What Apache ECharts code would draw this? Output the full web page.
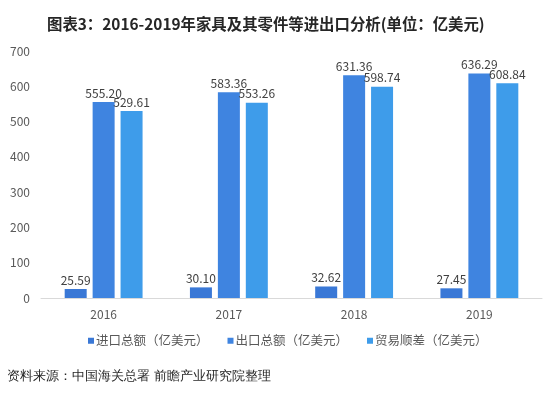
<!DOCTYPE html>
<html><head><meta charset="utf-8">
<script src="https://cdn.jsdelivr.net/npm/echarts@6/dist/echarts.min.js"></script>
<style>html,body{margin:0;padding:0;background:#fff}#c{width:555px;height:397px}</style>
</head><body><div id="c"></div>
<script>
const categories = ['2016', '2017', '2018', '2019'];
const importTotal = [25.59, 30.10, 32.62, 27.45];
const exportTotal = [555.20, 583.36, 631.36, 636.29];
const tradeSurplus = [529.61, 553.26, 598.74, 608.84];
const seriesNames = ['进口总额（亿美元）', '出口总额（亿美元）', '贸易顺差（亿美元）'];
const yTicks = [0, 100, 200, 300, 400, 500, 600, 700];

const font = '"Noto Sans CJK SC", "Microsoft YaHei", sans-serif';
const colors = ['#3a78d6', '#3f84e0', '#3e9cea'];
const label = {show: true, position: 'top', color: '#404040', fontSize: 12, fontFamily: font, distance: 3,
  formatter: p => p.value.toFixed(2)};
function mk(name, data, i) {
  return {name, type: 'bar', data, barWidth: 22, barGap: '27%', itemStyle: {color: colors[i]}, label};
}
const chart = echarts.init(document.getElementById('c'), null, {renderer: 'canvas'});
chart.setOption({
  animation: false,
  title: {text: '图表3：2016-2019年家具及其零件等进出口分析(单位：亿美元)', left: 42, top: 11,
    textStyle: {fontSize: 15.4, fontWeight: 'bold', color: '#262626', fontFamily: font}},
  grid: {left: 41, right: 13, top: 51, bottom: 99},
  legend: {bottom: 45, left: 83, itemWidth: 6, itemHeight: 6, itemGap: 19,
    icon: 'rect', textStyle: {fontSize: 12.5, color: '#595959', fontFamily: font, padding: [0, 0, 0, -3]},
    data: seriesNames},
  xAxis: {type: 'category', data: categories,
    axisLine: {lineStyle: {color: '#d9d9d9'}}, axisTick: {show: false},
    axisLabel: {color: '#595959', fontSize: 12, fontFamily: font, margin: 10}},
  yAxis: {type: 'value', min: yTicks[0], max: yTicks[yTicks.length - 1], interval: 100,
    axisLine: {show: false}, axisTick: {show: false}, splitLine: {show: false},
    axisLabel: {color: '#595959', fontSize: 12, fontFamily: font, margin: 11}},
  graphic: [{type: 'text', left: 7, top: 370,
    style: {text: '资料来源：中国海关总署 前瞻产业研究院整理', fontSize: 13, fill: '#262626', font: '13px ' + font}}],
  series: [mk(seriesNames[0], importTotal, 0), mk(seriesNames[1], exportTotal, 1), mk(seriesNames[2], tradeSurplus, 2)]
});
</script></body></html>
